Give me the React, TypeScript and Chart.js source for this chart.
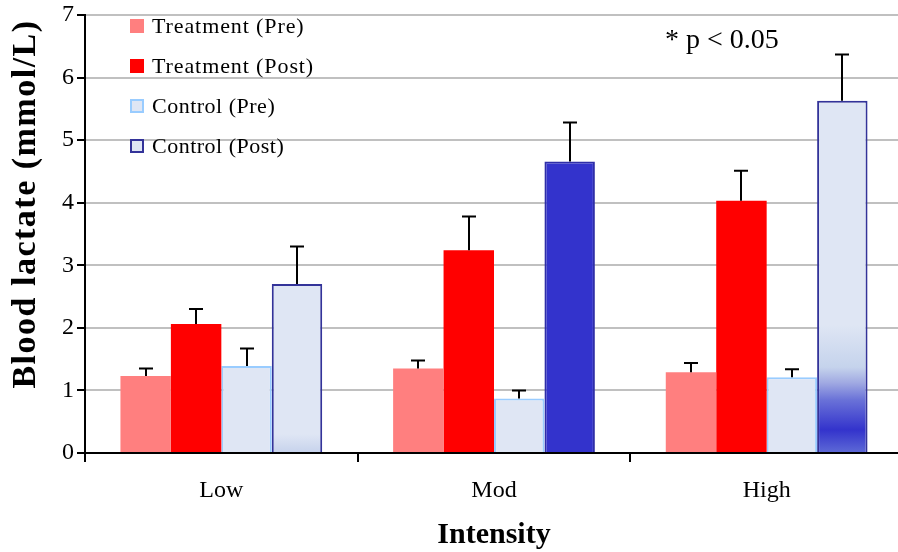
import React, { useEffect, useRef } from 'react';
import { Chart, registerables } from 'chart.js';

Chart.register(...registerables);

const SERIF = '"Liberation Serif", "Times New Roman", serif';

const categories = ['Low', 'Mod', 'High'];
const seriesNames = ['Treatment (Pre)', 'Treatment (Post)', 'Control (Pre)', 'Control (Post)'];
const treatmentPre = [1.23, 1.35, 1.29];
const treatmentPost = [2.06, 3.24, 4.03];
const controlPre = [1.39, 0.87, 1.21];
const controlPost = [2.7, 4.66, 5.63];
const treatmentPreErr = [0.12, 0.13, 0.15];
const treatmentPostErr = [0.24, 0.54, 0.48];
const controlPreErr = [0.28, 0.13, 0.13];
const controlPostErr = [0.6, 0.62, 0.74];
const yTickLabels = ['0', '1', '2', '3', '4', '5', '6', '7'];
const xAxisTitle = 'Intensity';
const yAxisTitle = 'Blood lactate (mmol/L)';
const annotationText = '* p < 0.05';

const LIGHT = '#DFE6F4';

function controlPostFill(c: any) {
  const i = c.dataIndex;
  const chart = c.chart;
  const y = chart.scales && chart.scales.y;
  if (!chart.chartArea || !y) return LIGHT;
  if (i === 1) return '#3333CC';
  const ctx = chart.ctx;
  const top = y.getPixelForValue(7);
  const bottom = y.getPixelForValue(0);
  const g = ctx.createLinearGradient(0, top, 0, bottom);
  const frac = (v: number) => (y.getPixelForValue(v) - top) / (bottom - top);
  if (i === 0) {
    g.addColorStop(0, LIGHT);
    g.addColorStop(frac(0.3), LIGHT);
    g.addColorStop(1, '#C6D2EC');
  } else {
    g.addColorStop(0, LIGHT);
    g.addColorStop(frac(2.05), LIGHT);
    g.addColorStop(frac(1.37), '#C5D3EC');
    g.addColorStop(frac(1.12), '#A0A9E2');
    g.addColorStop(frac(0.85), '#6A72D8');
    g.addColorStop(frac(0.37), '#3333CC');
    g.addColorStop(1, '#5E6AD6');
  }
  return g;
}

const errors = [treatmentPreErr, treatmentPostErr, controlPreErr, controlPostErr];

const errorBarPlugin = {
  id: 'errorBars',
  afterDatasetsDraw(chart: any) {
    const ctx = chart.ctx;
    const y = chart.scales.y;
    ctx.save();
    ctx.strokeStyle = '#000';
    ctx.lineWidth = 2;
    chart.data.datasets.forEach((ds: any, di: number) => {
      const meta = chart.getDatasetMeta(di);
      meta.data.forEach((el: any, i: number) => {
        const v = ds.data[i];
        const e = errors[di][i];
        const yTop = y.getPixelForValue(v + e);
        const x = Math.round(el.x);
        ctx.beginPath();
        ctx.moveTo(x, el.y);
        ctx.lineTo(x, yTop);
        ctx.moveTo(x - 7, yTop);
        ctx.lineTo(x + 7, yTop);
        ctx.stroke();
      });
    });
    ctx.restore();
  },
};

const legendStyles = [
  { fill: '#FF7F7F', border: null as string | null, spacing: '0.9px' },
  { fill: '#FF0000', border: null as string | null, spacing: '0.9px' },
  { fill: LIGHT, border: '#99CCFF', spacing: '0.5px' },
  { fill: LIGHT, border: '#333399', spacing: '0.5px' },
];

const overlayPlugin = {
  id: 'overlay',
  afterDraw(chart: any) {
    const ctx = chart.ctx;
    ctx.save();
    seriesNames.forEach((name, i) => {
      const cy = 26 + i * 40;
      const st = legendStyles[i];
      ctx.fillStyle = st.fill;
      ctx.fillRect(130, cy - 7, 14, 14);
      if (st.border) {
        ctx.strokeStyle = st.border;
        ctx.lineWidth = 2;
        ctx.strokeRect(131, cy - 6, 12, 12);
      }
      ctx.fillStyle = '#000';
      ctx.font = `22px ${SERIF}`;
      ctx.textAlign = 'left';
      ctx.textBaseline = 'middle';
      (ctx as any).letterSpacing = st.spacing;
      ctx.fillText(name, 152, cy + 1);
    });
    (ctx as any).letterSpacing = '0px';
    ctx.font = `28px ${SERIF}`;
    ctx.fillStyle = '#000';
    ctx.textAlign = 'left';
    ctx.textBaseline = 'middle';
    ctx.fillText(annotationText, 665, 41);
    ctx.translate(26, 204);
    ctx.rotate(-Math.PI / 2);
    ctx.font = `bold 34px ${SERIF}`;
    ctx.textAlign = 'center';
    ctx.textBaseline = 'middle';
    (ctx as any).letterSpacing = '1.5px';
    ctx.fillText(yAxisTitle, 0, 0);
    (ctx as any).letterSpacing = '0px';
    ctx.restore();
  },
};

export default function App() {
  const ref = useRef<HTMLCanvasElement | null>(null);
  useEffect(() => {
    if (!ref.current) return;
    const chart = new Chart(ref.current, {
      type: 'bar',
      data: {
        labels: categories,
        datasets: [
          { label: seriesNames[0], data: treatmentPre, backgroundColor: '#FF7F7F', borderWidth: 0 },
          { label: seriesNames[1], data: treatmentPost, backgroundColor: '#FF0000', borderWidth: 0 },
          { label: seriesNames[2], data: controlPre, backgroundColor: LIGHT, borderColor: '#99CCFF', borderWidth: 2 },
          {
            label: seriesNames[3],
            data: controlPost,
            backgroundColor: controlPostFill as any,
            borderColor: ['#333399', '#2E2EA8', '#333399'],
            borderWidth: 2,
          },
        ],
      },
      options: {
        animation: false,
        responsive: false,
        devicePixelRatio: 1,
        events: [],
        layout: { padding: { top: 0, left: 0, right: 0, bottom: 0 } },
        datasets: { bar: { categoryPercentage: 0.74, barPercentage: 1.0 } },
        plugins: { legend: { display: false }, tooltip: { enabled: false } },
        scales: {
          x: {
            grid: { display: true, offset: true, drawOnChartArea: false, drawTicks: true, tickLength: 9, color: '#000', lineWidth: 2 },
            border: { display: true, color: '#000', width: 2 },
            ticks: { font: { family: SERIF, size: 24 }, color: '#000', padding: 14 },
            title: { display: true, text: xAxisTitle, color: '#000', font: { family: SERIF, size: 30, weight: 'bold', lineHeight: 1.0 }, padding: { top: 0, bottom: 2 } },
            afterFit: (s: any) => { s.height = 99; },
          },
          y: {
            min: 0,
            max: 7,
            ticks: {
              stepSize: 1,
              font: { family: SERIF, size: 24, lineHeight: 1.0 },
              color: '#000',
              padding: 3,
              callback: (v: any) => yTickLabels[Number(v)] ?? '',
            },
            grid: { color: '#C0C0C0', lineWidth: 2, tickColor: '#000', tickLength: 8, drawTicks: true },
            border: { display: true, color: '#000', width: 2 },
            afterFit: (s: any) => { s.width = 85; },
          },
        },
      },
      plugins: [errorBarPlugin, overlayPlugin],
    });
    return () => chart.destroy();
  }, []);
  return (
    <div style={{ position: 'fixed', left: 0, top: 0, width: 898, height: 552, overflow: 'hidden', background: '#fff' }}>
      <canvas ref={ref} width={903} height={552} style={{ display: 'block', width: 903, height: 552 }} />
    </div>
  );
}
